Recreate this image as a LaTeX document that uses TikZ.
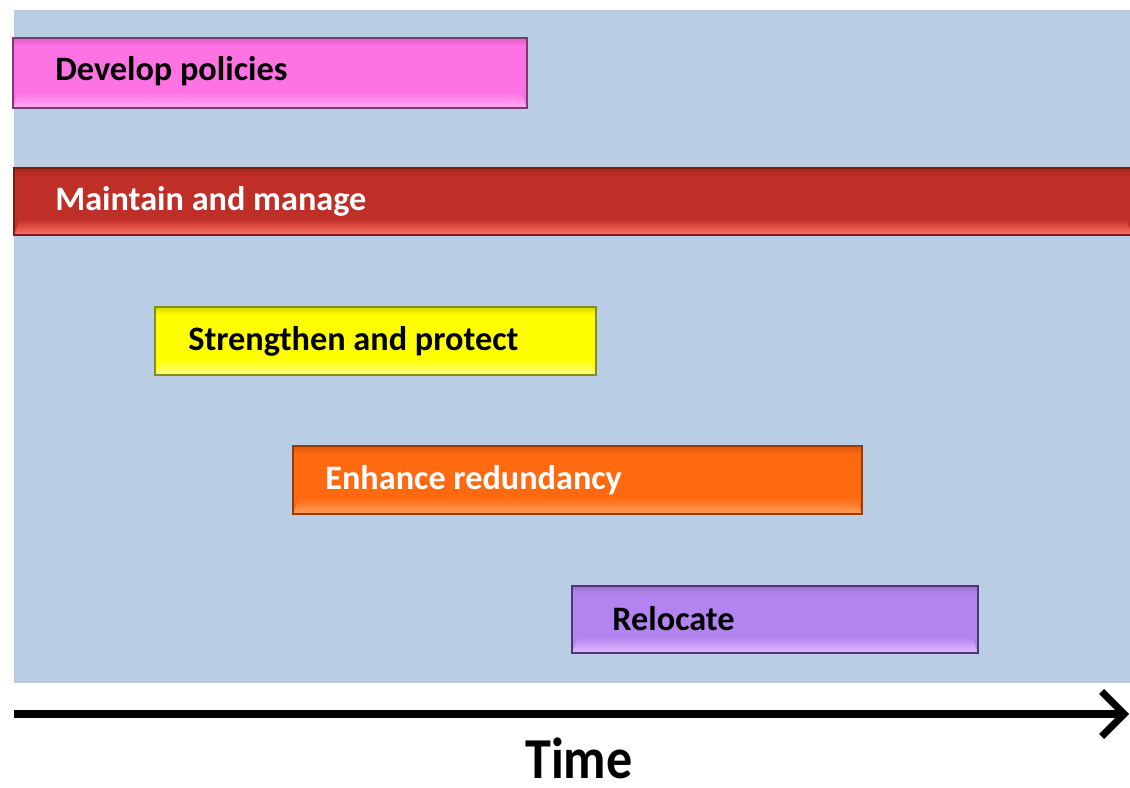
\documentclass[tikz,border=0pt]{standalone}
\usepackage{fontspec}
\setmainfont{Carlito}
\usetikzlibrary{arrows.meta}
\definecolor{panel}{HTML}{B9CDE5}
\definecolor{pinkM}{HTML}{FF72E4}\definecolor{pinkL}{HTML}{FFB0F6}\definecolor{pinkD}{HTML}{7E3A70}
\definecolor{redM}{HTML}{C02E28}\definecolor{redL}{HTML}{FF7466}\definecolor{redD}{HTML}{7A1C18}
\definecolor{yelM}{HTML}{FFFF00}\definecolor{yelL}{HTML}{FFFF8A}\definecolor{yelD}{HTML}{8A8A20}
\definecolor{oraM}{HTML}{FF6A10}\definecolor{oraL}{HTML}{FFA060}\definecolor{oraD}{HTML}{9A3A08}
\definecolor{purM}{HTML}{B384EF}\definecolor{purL}{HTML}{E4BCFF}\definecolor{purD}{HTML}{50366E}
\tikzset{
  lbl/.style={anchor=west,font=\bfseries\fontsize{19.5pt}{22pt}\selectfont,inner sep=0pt},
}
% #1 x1, #2 y1, #3 x2, #4 y2, #5 base colour prefix
\newcommand{\gbar}[5]{%
  \fill[#5M] (#1,#2) rectangle (#3,#4);
  \shade[top color=#5M!85!black,bottom color=#5M] (#1,#2) rectangle (#3,{#2+8});
  \shade[top color=#5M,bottom color=#5L] (#1+6,{#4-16}) -- (#3-6,{#4-16}) -- (#3,#4) -- (#1,#4) -- cycle;
  \draw[#5D,line width=0.8pt] (#1,#2) rectangle (#3,#4);
}
\begin{document}
\begin{tikzpicture}[x=0.02cm,y=-0.02cm]
\useasboundingbox (0,0) rectangle (1130,788);
\fill[white] (0,0) rectangle (1130,788);
\fill[panel] (14,10) rectangle (1130,683);
\gbar{13}{38}{527}{108}{pink}
\node[lbl,text=black] (dev) at (55,71) {Develop policies};
\gbar{14}{168}{1132}{235}{red}
\node[lbl,text=white] (maint) at (55,201) {Maintain and manage};
\gbar{155}{307}{596}{375}{yel}
\node[lbl,text=black] (str) at (188,341) {Strengthen and protect};
\gbar{293}{446}{862}{514}{ora}
\node[lbl,text=white] (enh) at (325,480) {Enhance redundancy};
\gbar{572}{586}{978}{653}{pur}
\node[lbl,text=black] (rel) at (612,619) {Relocate};
\coordinate (t0) at (14,714);
\coordinate (t1) at (1129,714);
\draw[line width=4.6pt,-{Straight Barb[length=0.45cm,width=0.9cm,line width=4pt]}] (t0) -- (t1);
\node[font=\bfseries\fontsize{33pt}{38pt}\selectfont,inner sep=0pt,xscale=0.9] (time) at (579,758) {Time};
\end{tikzpicture}
\end{document}
